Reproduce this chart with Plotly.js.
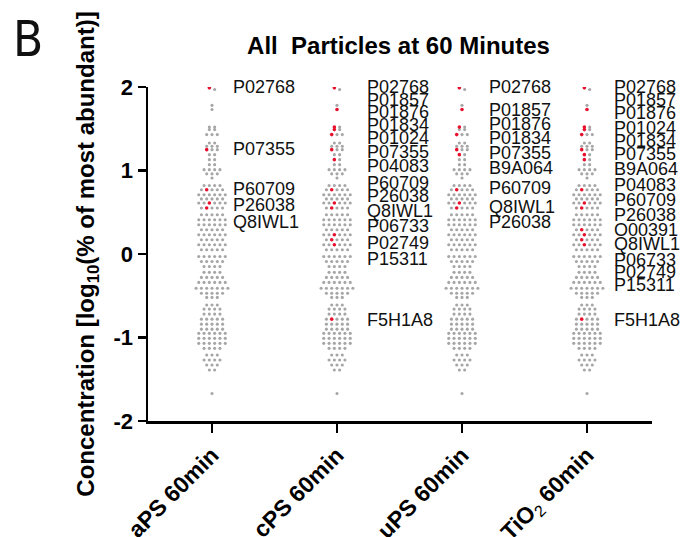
<!DOCTYPE html>
<html><head><meta charset="utf-8">
<script src="https://cdn.plot.ly/plotly-3.0.1.min.js"></script>
<style>html,body{margin:0;padding:0;background:#fff}#chart{width:680px;height:537px}</style>
</head><body><div id="chart"></div>
<script>
// ---- data ----
const categories = ['aPS 60min', 'cPS 60min', 'uPS 60min', 'TiO<sub>2</sub> 60min'];

// log10(% of most abundant) for the detected proteins; the four swarms are drawn from the same protein levels
const proteinLevels = [
  1.99, 1.97, 1.78, 1.73, 1.52, 1.52, 1.49, 1.49, 1.43, 1.43, 1.43,
  1.33, 1.33, 1.29, 1.29, 1.29, 1.25, 1.25, 1.25, 1.19, 1.19, 1.13, 1.13, 1.07, 1.07,
  1.01, 1.01, 1.01, 1.01, 0.96, 0.96, 0.96, 0.91,
  0.82, 0.82, 0.82, 0.82, 0.77, 0.77, 0.77, 0.77, 0.77,
  0.71, 0.71, 0.71, 0.71, 0.71, 0.71, 0.66, 0.66, 0.66, 0.66, 0.66,
  0.61, 0.61, 0.61, 0.61, 0.61, 0.61, 0.55, 0.55, 0.55, 0.55, 0.55,
  0.47, 0.47, 0.47, 0.47, 0.47, 0.41, 0.41, 0.41, 0.41, 0.41, 0.41,
  0.35, 0.35, 0.35, 0.35, 0.35, 0.35, 0.29, 0.29, 0.29, 0.29, 0.29,
  0.23, 0.23, 0.23, 0.23, 0.23, 0.23, 0.17, 0.17, 0.17, 0.17, 0.17,
  0.11, 0.11, 0.11, 0.11, 0.11, 0.11, 0.05, 0.05, 0.05, 0.05, 0.05,
  -0.03, -0.03, -0.03, -0.03, -0.03, -0.03, -0.09, -0.09, -0.09, -0.09, -0.09,
  -0.15, -0.15, -0.15, -0.15, -0.22, -0.22, -0.22, -0.22,
  -0.28, -0.28, -0.28, -0.28, -0.28, -0.34, -0.34, -0.34, -0.34, -0.34, -0.34,
  -0.41, -0.41, -0.41, -0.41, -0.41, -0.41, -0.41, -0.47, -0.47, -0.47, -0.47, -0.47,
  -0.52, -0.52, -0.52, -0.61, -0.61, -0.61, -0.66, -0.66, -0.66, -0.66,
  -0.72, -0.72, -0.72, -0.72, -0.78, -0.78, -0.78, -0.78, -0.78,
  -0.84, -0.84, -0.84, -0.84, -0.84, -0.90, -0.90, -0.90, -0.90, -0.90,
  -0.95, -0.95, -0.95, -0.95, -0.95, -0.95, -1.01, -1.01, -1.01, -1.01, -1.01, -1.01,
  -1.07, -1.07, -1.07, -1.07, -1.07, -1.07, -1.13, -1.13, -1.13, -1.13,
  -1.21, -1.21, -1.21, -1.27, -1.27, -1.27, -1.27, -1.33, -1.33, -1.33,
  -1.39, -1.39, -1.67
];

// highlighted (red) proteins per particle: their levels and names
const aPSHits   = [1.99, 1.25, 0.77, 0.61, 0.55];
const aPSNames  = ['P02768', 'P07355', 'P60709', 'P26038', 'Q8IWL1'];
const cPSHits   = [1.99, 1.73, 1.52, 1.49, 1.43, 1.25, 1.13, 0.77, 0.61, 0.55, 0.23, 0.17, 0.11, -0.78];
const cPSNames  = ['P02768', 'P01857', 'P01876', 'P01834', 'P01024', 'P07355', 'P04083', 'P60709',
                   'P26038', 'Q8IWL1', 'P06733', 'P02749', 'P15311', 'F5H1A8'];
const uPSHits   = [1.99, 1.73, 1.52, 1.43, 1.25, 1.19, 0.77, 0.61, 0.55];
const uPSNames  = ['P02768', 'P01857', 'P01876', 'P01834', 'P07355', 'B9A064', 'P60709', 'Q8IWL1', 'P26038'];
const TiO2Hits  = [1.99, 1.73, 1.52, 1.49, 1.43, 1.25, 1.19, 1.13, 0.77, 0.61, 0.55, 0.29, 0.23, 0.17, 0.11, -0.78];
const TiO2Names = ['P02768', 'P01857', 'P01876', 'P01024', 'P01834', 'P07355', 'B9A064', 'P04083',
                   'P60709', 'P26038', 'O00391', 'Q8IWL1', 'P06733', 'P02749', 'P15311', 'F5H1A8'];

// label anchor heights (y-axis units), de-overlapped as in the reference
const aPSLabelY  = [1.995, 1.26, 0.78, 0.59, 0.38];
const cPSLabelY  = [1.995, 1.85, 1.70, 1.545, 1.39, 1.225, 1.055, 0.85, 0.69, 0.51, 0.33, 0.13, -0.06, -0.79];
const uPSLabelY  = [1.995, 1.725, 1.557, 1.386, 1.206, 1.026, 0.787, 0.566, 0.387];
const TiO2LabelY = [1.995, 1.844, 1.685, 1.513, 1.353, 1.198, 1.018, 0.826, 0.647, 0.467, 0.287, 0.12, -0.07, -0.22, -0.37, -0.79];

// ---- layout constants ----
const W = 680, H = 537;
const M = {l: 148, r: 28, t: 87, b: 116};
const plotW = W - M.l - M.r, plotH = H - M.t - M.b;
const XR = [-0.512, 3.52], YR = [-2, 2];
const pxPerX = plotW / (XR[1] - XR[0]);
const pxPerY = plotH / (YR[1] - YR[0]);
const DX = 5.3;          // horizontal spacing of dots in a row, px
const ROW_TOL = 0.03;    // values closer than this share a row
const GRAY = '#a6a6a6', RED = '#e8112d';
const labelShift = [19, 28, 25, 25];

// row-based beeswarm (GraphPad style), returns x offsets in axis units
function swarm(vals) {
  const order = vals.map((v, i) => i).sort((a, b) => vals[b] - vals[a]);
  const off = new Array(vals.length).fill(0);
  let row = [];
  const flush = () => {
    const n = row.length;
    row.forEach((idx, k) => { off[idx] = (k - (n - 1) / 2) * DX / pxPerX; });
    row = [];
  };
  order.forEach(i => {
    if (row.length && Math.abs(vals[row[0]] - vals[i]) > ROW_TOL) flush();
    row.push(i);
  });
  flush();
  return off;
}

const columns = [
  {hits: aPSHits, names: aPSNames, ly: aPSLabelY},
  {hits: cPSHits, names: cPSNames, ly: cPSLabelY},
  {hits: uPSHits, names: uPSNames, ly: uPSLabelY},
  {hits: TiO2Hits, names: TiO2Names, ly: TiO2LabelY}
];

const offsets = swarm(proteinLevels);
const traces = [];
const annotations = [];
const labelFont = {family: 'Liberation Sans, Arial, sans-serif', size: 18, color: '#111'};

columns.forEach((col, ci) => {
  const isRed = new Array(proteinLevels.length).fill(false);
  col.hits.forEach(h => {
    let best = -1, bd = 1e9;
    proteinLevels.forEach((v, i) => {
      if (isRed[i]) return;
      const d = Math.abs(v - h) + Math.abs(offsets[i] * pxPerX + DX * 0.5) * 0.0005;
      if (d < bd) { bd = d; best = i; }
    });
    if (best >= 0) isRed[best] = true;
  });
  const gx = [], gy = [], rx = [], ry = [];
  proteinLevels.forEach((v, i) => {
    if (isRed[i]) { rx.push(ci + offsets[i]); ry.push(v); }
    else { gx.push(ci + offsets[i]); gy.push(v); }
  });
  traces.push({type: 'scatter', mode: 'markers', x: gx, y: gy, hoverinfo: 'skip', showlegend: false,
    marker: {size: 3.1, color: GRAY, line: {width: 0}}});
  traces.push({type: 'scatter', mode: 'markers', x: rx, y: ry, hoverinfo: 'skip', showlegend: false,
    marker: {size: 3.6, color: RED, line: {width: 0}}});
  col.names.forEach((n, k) => {
    annotations.push({x: ci, xref: 'x', y: col.ly[k], yref: 'y', text: n, showarrow: false,
      xanchor: 'left', yanchor: 'middle', xshift: labelShift[ci], font: labelFont});
  });
});

const tickFont = {family: 'Liberation Sans, Arial, sans-serif', size: 22, color: '#000'};
const xTickFont = {family: 'Liberation Sans, Arial, sans-serif', size: 23, color: '#000'};
const yTitleFont = {family: 'Liberation Sans, Arial, sans-serif', size: 24, color: '#000'};

annotations.push({xref: 'paper', yref: 'paper', x: (11 - M.l) / plotW, y: (H - M.b - 40) / plotH,
  xanchor: 'left', yanchor: 'middle', text: 'B', showarrow: false,
  font: {family: 'Liberation Sans Narrow, DejaVu Sans Condensed, sans-serif', size: 49, color: '#111'}});

const layout = {
  width: W, height: H, margin: M, paper_bgcolor: '#fff', plot_bgcolor: '#fff',
  title: {text: '<b>All\u00a0 Particles at 60 Minutes</b>', x: 398.5 / W, xanchor: 'center',
          y: 1 - 46 / H, yanchor: 'middle', xref: 'container', yref: 'container',
          font: {family: 'Liberation Sans, Arial, sans-serif', size: 24, color: '#000'}},
  xaxis: {range: XR, tickvals: [0, 1, 2, 3], ticktext: categories.map(c => '<b>' + c.replace('<sub>2</sub>', '</b><sub>2</sub><b>') + '</b>'),
          tickangle: -45, ticks: 'outside', ticklen: 9, tickwidth: 2.5, tickcolor: '#000',
          showline: true, linecolor: '#000', linewidth: 2.5, showgrid: false, zeroline: false,
          tickfont: xTickFont, fixedrange: true},
  yaxis: {range: YR, tickvals: [-2, -1, 0, 1, 2], ticktext: ['<b>-2</b>', '<b>-1</b>', '<b>0</b>', '<b>1</b>', '<b>2</b>'],
          ticks: 'outside', ticklen: 8, tickwidth: 2.5, tickcolor: '#000',
          showline: true, linecolor: '#000', linewidth: 2.5, showgrid: false, zeroline: false,
          tickfont: tickFont, fixedrange: true,
          title: {text: '<b>Concentration [log<sub>10</sub>(% of most abundant)]</b>', standoff: 12, font: yTitleFont}},
  annotations: annotations
};

Plotly.newPlot('chart', traces, layout, {staticPlot: true, displayModeBar: false});
</script>
</body></html>
